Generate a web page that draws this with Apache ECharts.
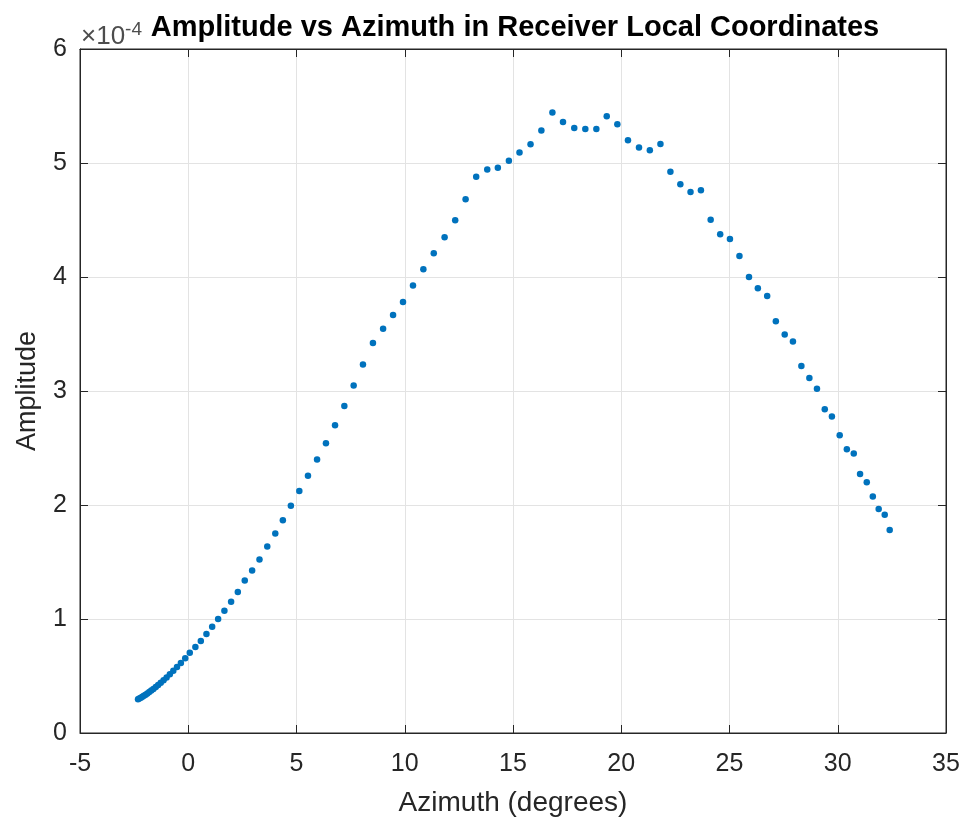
<!DOCTYPE html>
<html>
<head>
<meta charset="utf-8">
<script src="https://cdn.jsdelivr.net/npm/echarts@6/dist/echarts.min.js"></script>
<style>html,body{margin:0;padding:0;background:#fff}#c{width:967px;height:823px}</style>
</head>
<body>
<div id="c"></div>
<script>
// Azimuth in degrees
const azimuth = [
  -2.32,-2.26,-2.19,-2.12,-2.05,-1.97,-1.89,-1.80,-1.71,-1.61,-1.50,-1.39,-1.27,-1.14,-1.00,-0.85,-0.69,-0.52,-0.34,-0.14,
  0.07,0.33,0.58,0.84,1.105,1.38,1.67,1.98,2.29,2.61,2.95,3.29,3.65,4.02,4.37,4.74,5.13,5.53,5.95,6.36,
  6.78,7.21,7.64,8.07,8.53,9.00,9.46,9.92,10.38,10.86,11.34,11.84,12.33,12.81,13.30,13.81,14.30,14.81,15.30,15.81,
  16.31,16.82,17.31,17.83,18.34,18.85,19.33,19.82,20.31,20.82,21.32,21.81,22.27,22.73,23.20,23.68,24.13,24.57,25.02,25.46,
  25.90,26.31,26.74,27.14,27.55,27.93,28.32,28.69,29.04,29.40,29.73,30.09,30.42,30.74,31.03,31.34,31.62,31.89,32.17,32.40
];
// Amplitude in units of 1e-4
const amplitudeE4 = [
  0.295,0.302,0.310,0.318,0.326,0.336,0.347,0.359,0.372,0.387,0.403,0.420,0.440,0.462,0.487,0.515,0.545,0.578,0.615,0.655,
  0.704,0.754,0.806,0.868,0.932,0.999,1.072,1.151,1.236,1.337,1.426,1.521,1.637,1.751,1.867,1.993,2.122,2.256,2.399,2.542,
  2.700,2.869,3.048,3.232,3.422,3.545,3.667,3.781,3.925,4.068,4.208,4.348,4.497,4.681,4.880,4.942,4.959,5.020,5.093,5.164,
  5.286,5.444,5.359,5.306,5.298,5.298,5.409,5.339,5.199,5.135,5.111,5.166,4.924,4.813,4.745,4.760,4.503,4.375,4.334,4.184,
  4.000,3.901,3.834,3.612,3.495,3.434,3.220,3.115,3.020,2.840,2.776,2.612,2.490,2.452,2.273,2.200,2.075,1.966,1.914,1.780
];
const xTicks = [-5,0,5,10,15,20,25,30,35];
const yTicks = [0,1,2,3,4,5,6];

const points = azimuth.map((a,i)=>[a, amplitudeE4[i]]);
const axisColor = '#262626';
const gridColor = '#e3e3e3';
const font = '"Liberation Sans", Arial, Helvetica, sans-serif';

const chart = echarts.init(document.getElementById('c'), null, {renderer:'canvas'});
chart.setOption({
  animation:false,
  backgroundColor:'#fff',
  title:{
    text:'Amplitude vs Azimuth in Receiver Local Coordinates',
    left:510, textAlign:'center', top:8,
    textStyle:{fontFamily:font, fontSize:29, fontWeight:'bold', color:'#000'}
  },
  grid:{left:80, right:21, top:49, bottom:90, show:true, borderColor:axisColor, borderWidth:1},
  graphic:[{
    type:'text', left:81, top:20, z:0,
    style:{
      text:'{a|×10}{b|-4}',
      rich:{
        a:{fontFamily:font, fontSize:26, fill:'#4d4d4d'},
        b:{fontFamily:font, fontSize:19, fill:'#4d4d4d', verticalAlign:'top', padding:[0,0,15,0]}
      }
    }
  }],
  xAxis:[{
    type:'value', min:xTicks[0], max:xTicks[xTicks.length-1], interval:5,
    name:'Azimuth (degrees)', nameLocation:'middle', nameGap:56,
    nameTextStyle:{fontFamily:font, fontSize:28, color:axisColor},
    axisLine:{show:true, onZero:false, lineStyle:{color:axisColor, width:1}},
    axisTick:{show:true, inside:true, length:8, lineStyle:{color:axisColor}},
    axisLabel:{fontFamily:font, fontSize:25, color:axisColor, margin:19},
    splitLine:{show:true, lineStyle:{color:gridColor, width:1}}
  },{
    type:'value', position:'top', min:xTicks[0], max:xTicks[xTicks.length-1], interval:5,
    axisLine:{show:true, onZero:false, lineStyle:{color:axisColor}},
    axisTick:{show:true, inside:true, length:8, lineStyle:{color:axisColor}},
    axisLabel:{show:false}, splitLine:{show:false}
  }],
  yAxis:[{
    type:'value', min:yTicks[0], max:yTicks[yTicks.length-1], interval:1,
    name:'Amplitude', nameLocation:'middle', nameGap:39, nameRotate:90,
    nameTextStyle:{fontFamily:font, fontSize:27, color:axisColor},
    axisLine:{show:true, onZero:false, lineStyle:{color:axisColor, width:1}},
    axisTick:{show:true, inside:true, length:8, lineStyle:{color:axisColor}},
    axisLabel:{fontFamily:font, fontSize:25, color:axisColor, margin:13, padding:[4,0,0,0]},
    splitLine:{show:true, lineStyle:{color:gridColor, width:1}}
  },{
    type:'value', position:'right', min:yTicks[0], max:yTicks[yTicks.length-1], interval:1,
    axisLine:{show:true, onZero:false, lineStyle:{color:axisColor}},
    axisTick:{show:true, inside:true, length:8, lineStyle:{color:axisColor}},
    axisLabel:{show:false}, splitLine:{show:false}
  }],
  series:[{
    type:'scatter', data:points, symbol:'circle', symbolSize:6.5,
    itemStyle:{color:'#0072BD', opacity:1}
  }]
});
</script>
</body>
</html>
